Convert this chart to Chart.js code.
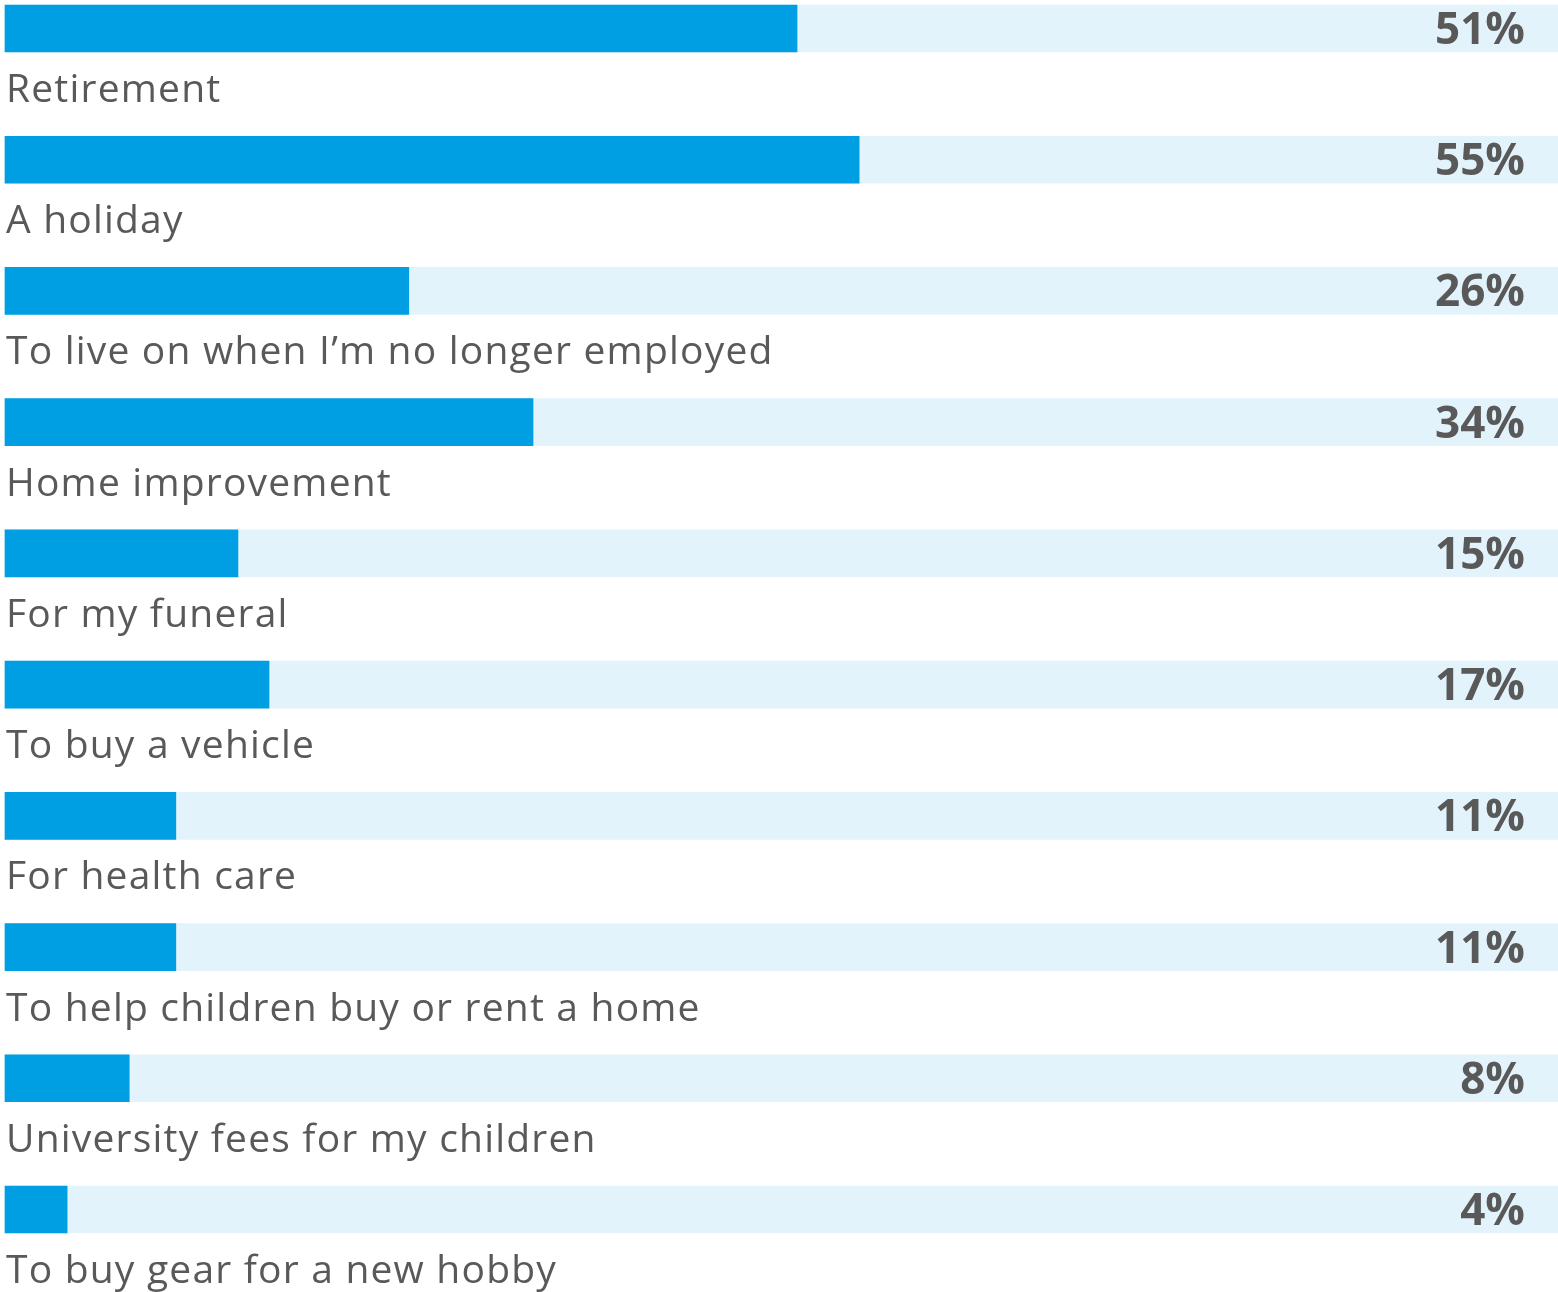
<!DOCTYPE html>
<html>
<head>
<meta charset="utf-8">
<title>Savings goals</title>
<script src="https://cdn.jsdelivr.net/npm/chart.js@4"></script>
<style>
  html, body { margin: 0; padding: 0; background: #fff; }
  #wrap { width: 1558px; height: 1292px; position: relative; }
</style>
</head>
<body>
<div id="wrap"><canvas id="goalsChart"></canvas></div>
<script>
// What people are saving for, share of respondents (%)
const categories = [
  "Retirement",
  "A holiday",
  "To live on when I\u2019m no longer employed",
  "Home improvement",
  "For my funeral",
  "To buy a vehicle",
  "For health care",
  "To help children buy or rent a home",
  "University fees for my children",
  "To buy gear for a new hobby"
];
const shares = [51, 55, 26, 34, 15, 17, 11, 11, 8, 4];
// full-width background track behind each bar
const trackValues = [100, 100, 100, 100, 100, 100, 100, 100, 100, 100];

const barColor = '#009fe3';
const trackColor = '#e3f3fb';
const textColor = '#595959';

// Writes the category name under each bar and the percentage at the right end of its track
const barLabels = {
  id: 'barLabels',
  afterDatasetsDraw(chart) {
    const ctx = chart.ctx;
    const area = chart.chartArea;
    const bars = chart.getDatasetMeta(0).data;
    ctx.save();
    bars.forEach((bar, i) => {
      ctx.fillStyle = textColor;
      ctx.textAlign = 'left';
      ctx.textBaseline = 'alphabetic';
      ctx.font = '39px "Open Sans", sans-serif';
      ctx.letterSpacing = '1.2px';
      ctx.fillText(categories[i], area.left + 1, bar.y + 73.5);

      ctx.textAlign = 'right';
      ctx.textBaseline = 'middle';
      ctx.font = 'bold 44px "Open Sans", sans-serif';
      ctx.letterSpacing = '0px';
      ctx.fillText(shares[i] + '%', area.right - 33, bar.y + 3);
    });
    ctx.restore();
  }
};

const ctx = document.getElementById('goalsChart').getContext('2d');
const goalsChart = new Chart(ctx, {
  type: 'bar',
  data: {
    labels: categories,
    datasets: [
      {
        label: 'Share',
        data: shares,
        backgroundColor: barColor,
        order: 0
      },
      {
        label: 'Track',
        data: trackValues,
        backgroundColor: trackColor,
        order: 1
      }
    ]
  },
  options: {
    indexAxis: 'y',
    responsive: true,
    maintainAspectRatio: false,
    animation: false,
    layout: {
      padding: { left: 5, right: 0, top: 28.5, bottom: 82.5 }
    },
    datasets: {
      bar: {
        grouped: false,
        barThickness: 47,
        borderWidth: 0,
        clip: false
      }
    },
    scales: {
      x: { display: false, min: 0, max: 100 },
      y: { display: false, offset: false }
    },
    plugins: {
      legend: { display: false },
      tooltip: { enabled: false }
    }
  },
  plugins: [barLabels]
});
</script>
</body>
</html>
